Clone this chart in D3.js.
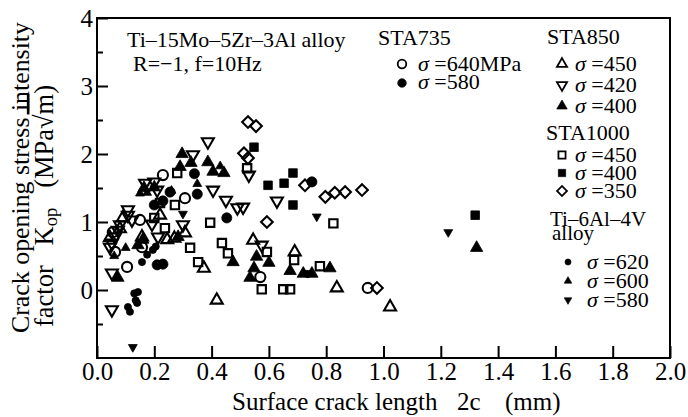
<!DOCTYPE html>
<html>
<head>
<meta charset="utf-8">
<script src="https://cdn.jsdelivr.net/npm/d3@7"></script>
<style>
  body { margin: 0; background: #fff; }
  svg text { font-family: "Liberation Serif", "Times New Roman", serif; fill: #000; white-space: pre; }
</style>
</head>
<body>
<div id="chart"></div>
<script>
// data: [crack length 2c (mm), Kop (MPa sqrt m)]
const sta735_640 = [[0.23, 1.69], [0.307, 1.35], [0.157, 0.63], [0.105, 0.34], [0.063, 0.56],
  [0.57, 0.19], [0.945, 0.03], [0.055, 0.85], [0.15, 1.03]];
const sta735_580 = [[0.34, 1.71], [0.35, 1.41], [0.255, 1.44], [0.23, 1.31], [0.453, 1.06],
  [0.75, 1.59], [0.21, 0.37], [0.23, 0.38], [0.2, 1.25]];
const sta850_450 = [[0.09, 1.06], [0.157, 0.78], [0.245, 0.74], [0.27, 0.76], [0.307, 0.84],
  [0.373, 0.32], [0.418, -0.15], [0.545, 0.73], [0.69, 0.56], [0.837, 0.03], [1.023, -0.25],
  [0.08, 0.9], [0.045, 0.77], [0.22, 1.1]];
const sta850_420 = [[0.387, 2.18], [0.335, 1.99], [0.2, 1.59], [0.168, 1.57], [0.21, 1.47],
  [0.405, 1.47], [0.45, 1.32], [0.49, 1.21], [0.51, 1.22], [0.53, 1.69], [0.628, 1.31],
  [0.575, 0.66], [0.108, 1.18], [0.108, 1.1], [0.122, 1.03], [0.08, 0.96], [0.073, 0.88],
  [0.063, 0.78], [0.052, 0.69], [0.045, 0.63], [0.052, 0.25], [0.052, -0.29],
  [0.192, 0.97], [0.213, 0.78], [0.3, 0.96]];
const sta850_400 = [[0.297, 2.0], [0.328, 1.87], [0.29, 1.81], [0.387, 1.88], [0.405, 1.74],
  [0.443, 1.72], [0.164, 1.5], [0.2, 1.51], [0.283, 0.78], [0.16, 0.74], [0.143, 0.66],
  [0.073, 0.18], [0.475, 0.41], [0.557, 0.49], [0.6, 0.4], [0.548, 0.32], [0.534, 0.18],
  [0.674, 0.28], [0.72, 0.24], [0.75, 0.24], [0.813, 0.32], [1.325, 0.62]];
const sta1000_450 = [[0.28, 1.72], [0.22, 1.28], [0.272, 1.25], [0.2, 1.06], [0.237, 0.91],
  [0.325, 0.62], [0.353, 0.41], [0.395, 0.99], [0.436, 0.69], [0.457, 0.54], [0.524, 1.79],
  [0.593, 0.56], [0.575, 0.01], [0.65, 0.01], [0.674, 0.01], [0.688, 0.44], [0.778, 0.35],
  [0.825, 0.98]];
const sta1000_400 = [[0.548, 2.1], [0.597, 1.54], [0.653, 1.57], [0.684, 1.72], [0.684, 1.25],
  [1.32, 1.1]];
const sta1000_350 = [[0.527, 2.47], [0.555, 2.41], [0.513, 2.01], [0.527, 1.94], [0.593, 1.0],
  [0.726, 1.54], [0.797, 1.37], [0.83, 1.43], [0.866, 1.44], [0.925, 1.47], [0.977, 0.03]];
const ti64_620 = [[0.157, 0.41], [0.175, 0.52], [0.195, 0.59], [0.13, -0.05], [0.143, -0.03],
  [0.135, -0.15], [0.14, -0.19], [0.108, -0.25], [0.115, -0.32], [0.205, 0.64]];
const ti64_600 = [[0.175, 1.43], [0.15, 1.42], [0.35, 1.56], [0.06, 0.5], [0.1, 0.62],
  [0.26, 1.46], [0.43, 1.82]];
const ti64_580 = [[0.125, -0.84], [0.767, 1.08], [1.226, 0.85], [0.735, 0.25], [0.3, 1.12]];

const xTicks = [0, 0.2, 0.4, 0.6, 0.8, 1.0, 1.2, 1.4, 1.6, 1.8, 2.0];
const yTicks = [0, 1, 2, 3, 4];
const yMinorTicks = [-0.5, 0.5, 1.5, 2.5, 3.5];

const width = 688, height = 417;
const margin = { left: 97, top: 18, right: 18, bottom: 59 };
const plotW = width - margin.left - margin.right;
const plotH = height - margin.top - margin.bottom;
const serif = "Liberation Serif, Times New Roman, serif";

const svg = d3.select("#chart").append("svg")
  .attr("width", width)
  .attr("height", height);

const x = d3.scaleLinear().domain([0, 2]).range([margin.left, margin.left + plotW]);
const y = d3.scaleLinear().domain([-1, 4]).range([margin.top + plotH, margin.top]);

// axes, ticks pointing into the plot
const xAxis = d3.axisBottom(x).tickValues(xTicks).tickFormat(d3.format(".1f"))
  .tickSizeInner(-12).tickSizeOuter(0).tickPadding(4);
const gx = svg.append("g")
  .attr("transform", `translate(0,${margin.top + plotH})`)
  .call(xAxis);

const yAxis = d3.axisLeft(y).tickValues(yTicks).tickFormat(d3.format("d"))
  .tickSizeInner(-11).tickSizeOuter(0).tickPadding(4);
const gy = svg.append("g")
  .attr("transform", `translate(${margin.left},0)`)
  .call(yAxis);

svg.append("g")
  .attr("transform", `translate(${margin.left},0)`)
  .call(d3.axisLeft(y).tickValues(yMinorTicks).tickFormat("").tickSizeInner(-6).tickSizeOuter(0));

svg.selectAll(".domain").remove();
svg.selectAll(".tick line").attr("stroke", "#000").attr("stroke-width", 2);
[gx, gy].forEach(g => g.attr("font-family", serif).attr("font-size", 25)
  .selectAll("text").style("font-size", "25px"));

svg.append("rect")
  .attr("x", margin.left).attr("y", margin.top)
  .attr("width", plotW).attr("height", plotH)
  .attr("fill", "none").attr("stroke", "#000").attr("stroke-width", 2);

// axis titles
const xt = svg.append("text").attr("y", 410).style("font-size", "25px");
xt.append("tspan").attr("x", 232).text("Surface crack length");
xt.append("tspan").attr("x", 457).text("2c");
xt.append("tspan").attr("x", 505).text("(mm)");

// fit a rotated title to a given length by scaling its font size
function fitFont(sel, target) {
  const len = sel.node().getComputedTextLength();
  const fs = parseFloat(sel.style("font-size"));
  sel.style("font-size", (fs * target / len).toFixed(2) + "px");
}

const yl1 = svg.append("text")
  .attr("transform", "translate(29,333) rotate(-90)")
  .style("font-size", "25px")
  .text("Crack opening stress intensity");
fitFont(yl1, 311);

const yl2 = svg.append("text")
  .attr("transform", "translate(53,327) rotate(-90)")
  .style("font-size", "25px");
yl2.append("tspan").text("factor   K");
yl2.append("tspan").attr("dy", "0.22em").style("font-size", "0.7em").text("op");
yl2.append("tspan").attr("dy", "-0.16em").text("   (MPa\u221A");
yl2.append("tspan").style("text-decoration", "overline").text("m");
yl2.append("tspan").text(")");
fitFont(yl2, 242);

// markers
const sym = (type, size) => d3.symbol().type(type).size(size)();
const series = [
  { data: sta735_640, path: sym(d3.symbolCircle, 80), rot: 0, fill: "none" },
  { data: sta735_580, path: sym(d3.symbolCircle, 80), rot: 0, fill: "#000" },
  { data: sta850_450, path: sym(d3.symbolTriangle, 62), rot: 0, fill: "none" },
  { data: sta850_420, path: sym(d3.symbolTriangle, 62), rot: 180, fill: "none" },
  { data: sta850_400, path: sym(d3.symbolTriangle, 66), rot: 0, fill: "#000" },
  { data: sta1000_450, path: sym(d3.symbolSquare, 70), rot: 0, fill: "none" },
  { data: sta1000_400, path: sym(d3.symbolSquare, 74), rot: 0, fill: "#000" },
  { data: sta1000_350, path: sym(d3.symbolSquare, 68), rot: 45, fill: "none" },
  { data: ti64_620, path: sym(d3.symbolCircle, 40), rot: 0, fill: "#000" },
  { data: ti64_600, path: sym(d3.symbolTriangle, 34), rot: 0, fill: "#000" },
  { data: ti64_580, path: sym(d3.symbolTriangle, 34), rot: 180, fill: "#000" }
];

series.forEach(s => {
  svg.append("g").selectAll("path")
    .data(s.data)
    .join("path")
    .attr("d", s.path)
    .attr("transform", d => `translate(${x(d[0])},${y(d[1])}) rotate(${s.rot})`)
    .attr("fill", s.fill)
    .attr("stroke", "#000")
    .attr("stroke-width", s.fill === "none" ? 2.1 : 0.8);
});

// legend text blocks
const legend = svg.append("g");
function label(xp, yp, txt, size) {
  legend.append("text").attr("x", xp).attr("y", yp).style("font-size", (size || 22) + "px").text(txt);
}
function sigmaItem(s, mx, my, tx, ty, val) {
  legend.append("path")
    .attr("d", s.path)
    .attr("transform", `translate(${mx},${my}) rotate(${s.rot}) scale(0.85)`)
    .attr("fill", s.fill).attr("stroke", "#000")
    .attr("stroke-width", s.fill === "none" ? 2.1 : 0.8);
  const t = legend.append("text").attr("x", tx).attr("y", ty).style("font-size", "22px");
  t.append("tspan").style("font-style", "italic").text("\u03C3");
  t.append("tspan").text(" =" + val);
}

label(127, 47, "Ti\u201315Mo\u20135Zr\u20133Al alloy");
label(133, 71, "R=\u22121, f=10Hz");

label(378, 45, "STA735");
sigmaItem(series[0], 402, 64, 418, 71, "640MPa");
sigmaItem(series[1], 402, 83, 418, 89, "580");

label(547, 44, "STA850");
sigmaItem(series[2], 562, 64, 575, 71, "450");
sigmaItem(series[3], 562, 85, 575, 92, "420");
sigmaItem(series[4], 562, 106, 575, 113, "400");

label(546, 140, "STA1000");
sigmaItem(series[5], 562, 155, 575, 162, "450");
sigmaItem(series[6], 562, 173, 575, 180, "400");
sigmaItem(series[7], 562, 191, 575, 198, "350");

label(550, 226, "Ti\u20136Al\u20134V", 21);
label(552, 240, "alloy", 21);
sigmaItem(series[8], 568, 262, 587, 269, "620");
sigmaItem(series[9], 568, 281, 587, 288, "600");
sigmaItem(series[10], 568, 300, 587, 307, "580");
</script>
</body>
</html>
